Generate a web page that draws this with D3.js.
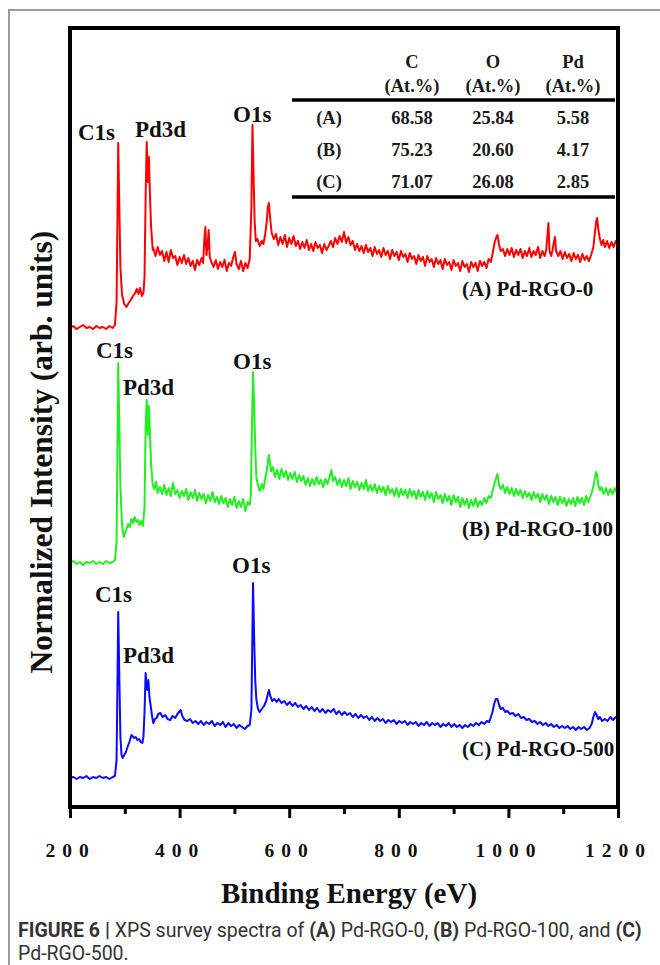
<!DOCTYPE html>
<html>
<head>
<meta charset="utf-8">
<script src="https://cdnjs.cloudflare.com/ajax/libs/d3/7.8.5/d3.min.js"></script>
<style>
  body { margin: 0; background: #fff; }
  svg { display: block; }
</style>
</head>
<body>
<svg id="chart"></svg>
<script>
var screen = {width: 660, height: 965}
var plot = {left: 70, right: 618, top: 28, bottom: 807}

// XPS survey spectra, [binding energy (eV), intensity (arb.)]
var spectrumA = [[200,479],[206,481],[212,478],[218,480],[224,482],[230,479],[236,480],[242,478],[248,481],[254,479],[260,480],[266,478],[272,481],[278,479],[282,482],[285,505],[288,664],[290,600],[292,540],[295,512],[299,503],[303,500],[307,504],[311,507],[315,511],[319,514],[322,518],[325,513],[328,519],[331,511],[334,514],[336,530],[338,610],[340,665],[342,625],[344,650],[346,610],[348,580],[351,557],[352,559],[356,551],[360,560],[364,552],[368,556],[372,546],[376,555],[380,545],[384,557],[388,549],[392,551],[396,542],[400,550],[404,544],[408,552],[412,543],[416,549],[420,541],[424,546],[428,537],[432,547],[436,542],[440,549],[443,544],[445,566],[447,580],[449,552],[451,560],[453,577],[455,550],[458,545],[462,540],[466,547],[470,538],[474,545],[478,540],[482,547],[486,536],[490,544],[494,541],[498,550],[501,555],[504,543],[508,538],[512,546],[516,536],[520,544],[524,539],[528,548],[531,600],[533,682],[535,630],[537,585],[539,566],[542,568],[546,561],[550,566],[553,563],[556,572],[559,585],[561,600],[563,604],[565,590],[568,574],[572,568],[576,573],[580,562],[584,570],[588,563],[592,572],[596,560],[600,569],[604,563],[608,571],[612,561],[616,566],[620,558],[624,565],[628,559],[632,567],[636,557],[640,563],[644,556],[648,565],[652,559],[656,562],[660,554],[664,563],[668,557],[672,561],[676,566],[680,560],[684,569],[688,563],[692,571],[696,565],[700,575],[704,564],[708,570],[712,562],[716,566],[720,557],[724,563],[728,556],[732,561],[736,554],[740,562],[744,555],[748,559],[752,551],[756,560],[760,553],[764,557],[768,550],[772,559],[776,552],[780,556],[784,548],[788,557],[792,551],[796,555],[800,547],[804,556],[808,550],[812,553],[816,545],[820,554],[824,548],[828,551],[832,543],[836,552],[840,546],[844,550],[848,541],[852,551],[856,545],[860,548],[864,540],[868,549],[872,543],[876,547],[880,538],[884,548],[888,542],[892,545],[896,537],[900,547],[904,541],[908,544],[912,536],[916,546],[920,540],[924,543],[928,535],[932,545],[936,540],[940,544],[944,536],[948,546],[952,541],[956,545],[960,539],[964,548],[968,545],[972,556],[975,565],[978,570],[980,572],[983,562],[986,556],[990,558],[994,551],[998,558],[1002,552],[1006,559],[1010,550],[1014,557],[1018,552],[1022,558],[1026,549],[1030,556],[1034,551],[1038,559],[1042,550],[1046,556],[1050,552],[1054,560],[1058,549],[1062,556],[1066,551],[1069,557],[1071,570],[1073,584],[1075,556],[1078,551],[1081,558],[1083,565],[1085,570],[1087,556],[1091,551],[1095,556],[1099,548],[1103,555],[1107,549],[1111,553],[1115,546],[1119,554],[1123,548],[1127,552],[1131,545],[1135,553],[1139,547],[1143,551],[1147,546],[1151,552],[1155,560],[1158,575],[1160,585],[1162,589],[1164,578],[1167,568],[1170,562],[1173,567],[1176,560],[1180,566],[1184,559],[1188,565],[1192,560],[1196,566],[1200,562]]

var spectrumB = [[200,244],[206,246],[212,243],[218,245],[224,242],[230,245],[236,244],[242,246],[248,243],[254,245],[260,243],[266,246],[272,244],[278,245],[282,247],[285,265],[288,444],[290,380],[292,320],[295,282],[298,270],[302,276],[306,283],[309,280],[312,288],[315,284],[318,290],[321,285],[324,287],[327,282],[330,286],[333,281],[336,300],[338,380],[340,407],[342,372],[344,401],[346,372],[348,343],[351,322],[354,318],[357,325],[360,314],[364,320],[368,313],[372,322],[376,312],[380,319],[384,311],[388,324],[392,313],[396,317],[400,309],[404,316],[408,311],[412,318],[416,307],[420,315],[424,309],[428,317],[432,306],[436,314],[440,308],[444,313],[448,304],[452,312],[456,306],[460,315],[464,305],[468,310],[472,303],[476,311],[480,304],[484,309],[488,300],[492,308],[496,302],[500,310],[504,299],[508,306],[512,300],[516,308],[520,296],[524,305],[528,302],[530,312],[532,380],[534,435],[536,400],[538,360],[540,330],[543,322],[546,316],[550,323],[553,318],[556,328],[559,336],[561,345],[563,352],[565,343],[567,336],[570,340],[574,330],[578,337],[582,328],[586,338],[590,330],[594,336],[598,327],[602,334],[606,328],[610,335],[614,325],[618,332],[622,326],[626,331],[630,322],[634,329],[638,321],[642,328],[646,322],[650,330],[654,323],[658,327],[662,320],[666,328],[670,323],[674,331],[677,337],[680,326],[684,330],[688,322],[692,328],[696,320],[700,327],[704,321],[708,329],[712,318],[716,326],[720,320],[724,325],[728,317],[732,324],[736,318],[740,327],[744,316],[748,322],[752,316],[756,323],[760,314],[764,321],[768,315],[772,320],[776,312],[780,321],[784,314],[788,318],[792,311],[796,319],[800,310],[804,318],[808,312],[812,317],[816,309],[820,318],[824,311],[828,316],[832,308],[836,317],[840,310],[844,315],[848,307],[852,316],[856,309],[860,314],[864,305],[868,315],[872,308],[876,312],[880,304],[884,313],[888,306],[892,311],[896,302],[900,312],[904,305],[908,310],[912,300],[916,309],[920,302],[924,308],[928,299],[932,307],[936,301],[940,309],[944,300],[948,306],[952,302],[956,309],[960,304],[964,311],[968,309],[972,318],[975,324],[978,330],[980,333],[983,322],[986,318],[990,322],[994,314],[998,320],[1002,313],[1006,319],[1010,311],[1014,318],[1018,312],[1022,317],[1026,309],[1030,316],[1034,310],[1038,314],[1042,307],[1046,315],[1050,309],[1054,313],[1058,305],[1062,313],[1066,307],[1070,312],[1074,303],[1078,311],[1082,305],[1086,310],[1090,302],[1094,310],[1098,304],[1102,309],[1106,301],[1110,308],[1114,303],[1118,309],[1122,301],[1126,310],[1130,304],[1134,309],[1138,302],[1142,311],[1146,305],[1150,311],[1154,318],[1157,326],[1160,335],[1162,332],[1164,322],[1167,317],[1170,320],[1174,313],[1178,319],[1182,312],[1186,318],[1190,313],[1194,319],[1198,314],[1200,317]]

var spectrumC = [[200,29],[206,30],[212,28],[218,30],[224,29],[230,31],[236,28],[242,30],[248,29],[254,31],[260,29],[266,30],[272,28],[278,30],[282,31],[285,47],[288,195],[290,130],[292,70],[294,52],[296,49],[299,52],[302,55],[305,60],[309,66],[312,72],[314,71],[317,69],[320,70],[323,67],[326,68],[329,65],[332,64],[334,70],[336,95],[338,134],[340,120],[341,117],[343,127],[345,110],[347,102],[350,90],[352,84],[355,88],[358,89],[361,93],[365,94],[369,90],[374,92],[378,88],[383,87],[387,91],[392,89],[396,93],[399,95],[402,97],[405,91],[409,87],[414,86],[419,88],[424,84],[429,86],[434,83],[439,86],[444,82],[449,85],[454,83],[459,86],[464,81],[469,84],[474,82],[479,85],[484,80],[489,84],[494,81],[499,83],[504,79],[509,82],[514,80],[519,78],[524,81],[528,82],[531,97],[533,180],[534,224],[536,170],[538,127],[540,108],[543,98],[546,95],[550,98],[554,101],[558,106],[561,113],[563,117],[566,110],[569,106],[573,108],[577,105],[581,108],[586,104],[591,106],[596,102],[601,105],[606,101],[611,104],[616,100],[621,102],[626,98],[631,101],[636,97],[641,100],[646,96],[651,99],[656,95],[661,98],[666,94],[671,97],[676,95],[681,98],[686,93],[691,96],[696,92],[701,95],[706,92],[711,94],[716,90],[721,93],[726,89],[731,92],[736,89],[741,91],[746,87],[751,90],[756,86],[761,89],[766,86],[771,88],[776,84],[781,87],[786,85],[791,87],[796,83],[801,86],[806,84],[811,86],[816,82],[821,85],[826,83],[831,85],[836,81],[841,84],[846,82],[851,85],[856,81],[861,84],[866,82],[871,84],[876,80],[881,83],[886,81],[891,84],[896,80],[901,83],[906,80],[911,82],[916,79],[921,82],[926,80],[931,83],[936,81],[941,84],[946,82],[951,85],[956,83],[961,86],[965,85],[968,90],[971,95],[974,103],[977,108],[980,108],[983,102],[986,98],[990,99],[994,95],[998,96],[1003,93],[1008,94],[1013,91],[1018,93],[1023,89],[1028,90],[1033,87],[1038,88],[1043,85],[1048,86],[1053,83],[1058,85],[1063,82],[1068,84],[1073,81],[1078,83],[1083,80],[1088,82],[1093,79],[1098,81],[1103,79],[1108,81],[1113,78],[1118,80],[1123,77],[1128,80],[1133,78],[1138,80],[1143,77],[1148,79],[1152,83],[1155,90],[1158,95],[1161,92],[1164,88],[1167,90],[1171,86],[1176,88],[1181,86],[1186,90],[1191,87],[1196,90],[1200,88]]

var sampleNames = ["(A) Pd-RGO-0", "(B) Pd-RGO-100", "(C) Pd-RGO-500"]
var peakNames = ["C1s", "Pd3d", "O1s"]

var tableCols = ["C", "O", "Pd"]
var tableRows = ["(A)", "(B)", "(C)"]
var atomicPct = [[68.58, 25.84, 5.58], [75.23, 20.60, 4.17], [71.07, 26.08, 2.85]]

var majorTicks = [200, 400, 600, 800, 1000, 1200]
var minorTicks = [300, 500, 700, 900, 1100]

// layout of each spectrum: colour, label spots (px)
var series = [
    {data: spectrumA, color: "#ff0000", name: {x: 462, y: 296},
     peaks: [{x: 78, y: 140}, {x: 135, y: 137}, {x: 233, y: 122}]},
    {data: spectrumB, color: "#22ee22", name: {x: 462, y: 536},
     peaks: [{x: 96, y: 358}, {x: 123, y: 395}, {x: 233, y: 369}]},
    {data: spectrumC, color: "#0a0aff", name: {x: 462, y: 756},
     peaks: [{x: 95, y: 602}, {x: 123, y: 663}, {x: 232, y: 573}]}
]

var serif = "'Liberation Serif', 'Times New Roman', serif"

var svg = d3.select("#chart")
    .attr("width", screen.width)
    .attr("height", screen.height)

// grey figure frame
svg.append("path")
    .attr("d", "M9,965 V10 H660")
    .attr("fill", "none")
    .attr("stroke", "#9a9a9a")
    .attr("stroke-width", 2)

var xScale = d3.scaleLinear()
    .domain([200, 1200])
    .range([plot.left, plot.right])

var yScale = d3.scaleLinear()
    .domain([0, 779])
    .range([plot.bottom, plot.top])

var line = d3.line()
    .x(function(d){ return xScale(d[0]) })
    .y(function(d){ return yScale(d[1]) })

//
//SPECTRA
//
series.forEach(function(s, i)
{
    svg.append("path")
        .datum(s.data)
        .attr("d", line)
        .attr("fill", "none")
        .attr("stroke", s.color)
        .attr("stroke-width", 2)
        .attr("stroke-linejoin", "round")

    svg.selectAll(".peak" + i)
        .data(peakNames)
        .enter()
        .append("text")
        .attr("x", function(d, j){ return s.peaks[j].x })
        .attr("y", function(d, j){ return s.peaks[j].y })
        .attr("font-family", serif)
        .attr("font-weight", "bold")
        .attr("font-size", 23)
        .attr("fill", "#111")
        .text(function(d){ return d })

    svg.append("text")
        .attr("x", s.name.x)
        .attr("y", s.name.y)
        .attr("font-family", serif)
        .attr("font-weight", "bold")
        .attr("font-size", 21)
        .attr("fill", "#111")
        .text(sampleNames[i])
})

//
//TABLE
//
var colX = [412, 493, 573]
var table = svg.append("g")
    .attr("font-family", serif)
    .attr("font-weight", "bold")
    .attr("fill", "#1a1a1a")
    .attr("text-anchor", "middle")
    .attr("font-size", 18.5)

tableCols.forEach(function(c, j)
{
    table.append("text").attr("x", colX[j]).attr("y", 68).text(c)
    table.append("text").attr("x", colX[j]).attr("y", 92).text("(At.%)")
})

tableRows.forEach(function(r, i)
{
    var ty = 124 + i * 32
    table.append("text").attr("x", 329).attr("y", ty).text(r)
    atomicPct[i].forEach(function(v, j)
    {
        table.append("text").attr("x", colX[j]).attr("y", ty).text(v.toFixed(2))
    })
})

table.append("line").attr("x1", 292).attr("x2", 615).attr("y1", 100).attr("y2", 100)
    .attr("stroke", "#000").attr("stroke-width", 3.5)
table.append("line").attr("x1", 292).attr("x2", 615).attr("y1", 197).attr("y2", 197)
    .attr("stroke", "#000").attr("stroke-width", 3.5)

//
//AXES
//
var xAxis = d3.axisBottom(xScale)
    .tickValues(majorTicks)
    .tickSize(11)
    .tickFormat(function(d){ return String(d) })

var xMinor = d3.axisBottom(xScale)
    .tickValues(minorTicks)
    .tickSize(7)
    .tickFormat("")

var gx = svg.append("g")
    .attr("transform", "translate(0," + plot.bottom + ")")
    .call(xAxis)

svg.append("g")
    .attr("transform", "translate(0," + plot.bottom + ")")
    .call(xMinor)
    .select(".domain").remove()

gx.select(".domain").remove()
svg.selectAll(".tick line")
    .attr("stroke", "#000")
    .attr("stroke-width", 3)

gx.selectAll(".tick text")
    .attr("y", 50)
    .attr("dy", 0)
    .attr("font-family", serif)
    .attr("font-weight", "bold")
    .attr("font-size", 19.5)
    .attr("letter-spacing", "7px")
    .attr("fill", "#111")

// frame of the plot
svg.append("rect")
    .attr("x", plot.left)
    .attr("y", plot.top)
    .attr("width", plot.right - plot.left)
    .attr("height", plot.bottom - plot.top)
    .attr("fill", "none")
    .attr("stroke", "#000")
    .attr("stroke-width", 4)

svg.append("text")
    .attr("x", 349)
    .attr("y", 903)
    .attr("text-anchor", "middle")
    .attr("font-family", serif)
    .attr("font-weight", "bold")
    .attr("font-size", 29)
    .attr("fill", "#111")
    .text("Binding Energy (eV)")

svg.append("text")
    .attr("transform", "translate(52,452) rotate(-90)")
    .attr("text-anchor", "middle")
    .attr("font-family", serif)
    .attr("font-weight", "bold")
    .attr("font-size", 31.5)
    .attr("fill", "#111")
    .text("Normalized Intensity (arb. units)")

//
//CAPTION
//
var caption = svg.append("text")
    .attr("font-family", "Roboto, 'Liberation Sans', sans-serif")
    .attr("font-size", 19.5)
    .attr("fill", "#333")

var line1 = [["FIGURE 6 | ", true], ["XPS survey spectra of ", false], ["(A)", true], [" Pd-RGO-0, ", false],
             ["(B)", true], [" Pd-RGO-100, and ", false], ["(C)", true]]
var t1 = caption.append("tspan").attr("x", 18).attr("y", 937)
line1.forEach(function(p, k)
{
    var sp = k == 0 ? t1 : caption.append("tspan")
    sp.attr("font-weight", p[1] ? "bold" : "normal").text(p[0])
})
caption.append("tspan").attr("x", 18).attr("y", 960).attr("font-weight", "normal").text("Pd-RGO-500.")
</script>
</body>
</html>
